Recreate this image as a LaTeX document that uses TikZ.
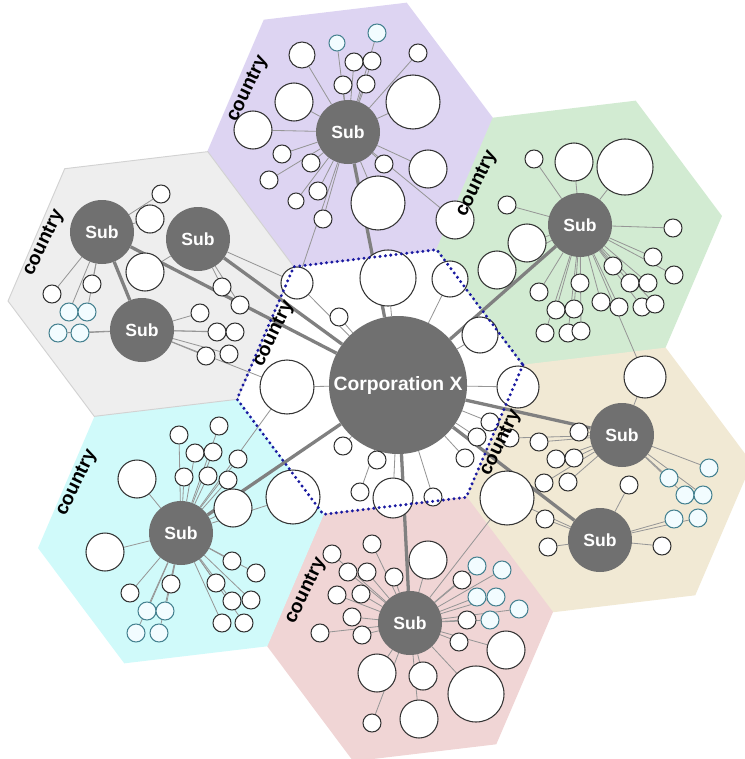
\documentclass[tikz,border=0pt]{standalone}
\usepackage{fontspec}
\setmainfont{Liberation Sans}
\usepackage{tikz}
\usetikzlibrary{calc}
\definecolor{fog}{RGB}{238,238,238}
\definecolor{lavender}{RGB}{221,212,242}
\definecolor{mint}{RGB}{210,235,210}
\definecolor{sand}{RGB}{241,233,212}
\definecolor{blush}{RGB}{240,213,213}
\definecolor{aqua}{RGB}{208,250,250}
\definecolor{hubgray}{RGB}{112,112,112}
\definecolor{linkgray}{RGB}{150,150,150}
\definecolor{dotblue}{RGB}{25,25,160}
\definecolor{tealline}{RGB}{70,130,145}
\definecolor{paleblue}{RGB}{242,252,255}
\pgfdeclarelayer{hexes}
\pgfdeclarelayer{links}
\pgfsetlayers{hexes,links,main}

\begin{document}
\begin{tikzpicture}[x=0.03cm,y=-0.03cm,
  hub/.style={circle,fill=hubgray,text=white,inner sep=0pt,minimum size=1.92cm,
    font=\bfseries\fontsize{15}{15}\selectfont},
  corp/.style={hub,minimum size=4.14cm,font=\bfseries\fontsize{16.5}{16.5}\selectfont},
  leaf/.style={circle,draw=black!80,fill=white,line width=0.9pt,inner sep=0pt},
  cleaf/.style={leaf,draw=tealline,fill=paleblue},
  link/.style={draw=linkgray,line width=0.7pt},
  trunk/.style={draw=linkgray!85!black,line width=2.8pt},
  ctry/.style={font=\bfseries\fontsize{16.5}{16.5}\selectfont,rotate=64}]

\useasboundingbox (0,0) rectangle (744,759);
\clip (0,0) rectangle (744,759);

% hexagon centres
\coordinate (hc)  at (380,382);
\coordinate (hpu) at (350,135);
\coordinate (hgr) at (579,233);
\coordinate (hbe) at (609,480);
\coordinate (hpk) at (410,629);
\coordinate (hcy) at (181,531);
\coordinate (hgy) at (151,284);

\begin{pgfonlayer}{hexes}
\foreach \c/\col in {hc/white,hpu/lavender,hgr/mint,hbe/sand,hpk/blush,hcy/aqua,hgy/fog}
  \fill[fill=\col] ($(\c)+(-6.8:144)$) -- ($(\c)+(53.2:144)$) -- ($(\c)+(113.2:144)$)
    -- ($(\c)+(173.2:144)$) -- ($(\c)+(233.2:144)$) -- ($(\c)+(293.2:144)$) -- cycle;
\draw[gray!35,line width=0.8pt] ($(hgy)+(-6.8:144)$) -- ($(hgy)+(53.2:144)$) -- ($(hgy)+(113.2:144)$)
    -- ($(hgy)+(173.2:144)$) -- ($(hgy)+(233.2:144)$) -- ($(hgy)+(293.2:144)$) -- cycle;
\end{pgfonlayer}

% hubs
\node[corp] (corp) at (398,385) {Corporation X};
\node[hub] (pu) at (348,132) {Sub};
\node[hub] (gr) at (580,225) {Sub};
\node[hub] (ga) at (102,232) {Sub};
\node[hub] (gb) at (198,239) {Sub};
\node[hub] (gc) at (142,330) {Sub};
\node[hub] (ba) at (622,435) {Sub};
\node[hub] (bb) at (600,540) {Sub};
\node[hub] (pk) at (410,623) {Sub};
\node[hub] (cy) at (181,533) {Sub};

% leaves, each tied to its hub
\foreach \h/\p/\list in {
  pu/pu/{337/43/8/cleaf,377/33/9/cleaf,302/55/13/leaf,354/62/9/leaf,372/61/9/leaf,418/53/9/leaf,
    343/85/9/leaf,366/84/9/leaf,294/102/19/leaf,413/102/27/leaf,253/130/19/leaf,282/154/9/leaf,
    311/163/9/leaf,269/180/9/leaf,384/164/9/leaf,428/169/19/leaf,318/191/9/leaf,296/201/8/leaf,
    378/203/27/leaf,323/219/9/leaf,455/220/19/leaf},
  gr/gr/{534/159/9/leaf,574/162/19/leaf,625/167/28/leaf,507/205/9/leaf,527/243/19/leaf,
    497/270/19/leaf,673/228/9/leaf,653/257/9/leaf,674/275/9/leaf,613/266/9/leaf,580/283/9/leaf,
    630/283/9/leaf,648/283/9/leaf,539/292/9/leaf,556/310/9/leaf,574/309/9/leaf,601/302/9/leaf,
    619/307/9/leaf,642/307/9/leaf,655/304/9/leaf,545/333/9/leaf,568/333/9/leaf,581/331/9/leaf},
  corp/co/{297/283/16/leaf,388/278/28/leaf,450/279/18/leaf,339/317/9/leaf,480/335/18/leaf,
    287/387/27/leaf,518/387/21/leaf,343/446/9/leaf,377/460/9/leaf,360/492/9/leaf,393/498/20/leaf,
    433/497/9/leaf,465/458/9/leaf,477/437/9/leaf,490/422/9/leaf},
  ga/ga/{161/194/9/leaf,150/219/14/leaf,92/284/9/leaf,52/294/9/leaf,69/312/9/cleaf,87/312/9/cleaf},
  gb/gb/{145/272/19/leaf,222/287/9/leaf,240/305/9/leaf},
  gc/gc/{58/333/9/cleaf,80/333/9/cleaf,200/313/9/leaf,217/332/9/leaf,235/332/9/leaf,
    206/356/9/leaf,229/354/9/leaf},
  ba/ba/{645/377/21/leaf,510/438/9/leaf,539/442/9/leaf,579/432/9/leaf,556/459/9/leaf,
    574/458/9/leaf,544/483/9/leaf,568/482/9/leaf,709/468/9/cleaf,669/478/9/cleaf,
    685/495/9/cleaf,703/495/9/cleaf},
  bb/bb/{507/498/27/leaf,545/519/9/leaf,548/547/9/leaf,629/485/9/leaf,674/519/9/cleaf,
    698/518/9/cleaf,662/546/9/leaf},
  pk/pk/{372/544/9/leaf,332/554/9/leaf,428/560/19/leaf,348/572/9/leaf,367/572/9/leaf,
    394/577/9/leaf,477/566/9/cleaf,502/570/9/cleaf,462/580/9/leaf,337/595/9/leaf,361/594/9/leaf,
    477/597/9/cleaf,496/597/9/cleaf,519/609/9/cleaf,352/617/9/leaf,467/620/9/leaf,
    490/620/9/cleaf,320/633/9/leaf,362/635/9/leaf,459/642/9/leaf,506/650/19/leaf,
    377/673/19/leaf,423/676/14/leaf,476/694/28/leaf,372/723/9/leaf,419/719/19/leaf},
  cy/cy/{179/435/9/leaf,219/426/9/leaf,195/453/9/leaf,213/452/9/leaf,238/459/9/leaf,
    184/477/9/leaf,208/476/9/leaf,228/480/9/leaf,137/479/19/leaf,233/508/19/leaf,
    293/497/27/leaf,105/552/19/leaf,232/561/9/leaf,256/573/9/leaf,216/583/9/leaf,
    171/584/9/leaf,130/593/9/leaf,232/601/9/leaf,251/600/9/leaf,147/611/9/cleaf,
    165/611/9/cleaf,222/623/9/leaf,244/623/9/leaf,136/633/9/cleaf,159/633/9/cleaf}}
{
  \foreach \x/\y/\r/\s [count=\i] in \list {
    \node[style=\s,minimum size=\r*0.06cm] (\p\i) at (\x,\y) {};
    \begin{pgfonlayer}{links}
      \draw[link] (\h) -- (\p\i);
    \end{pgfonlayer}
  }
}

\begin{pgfonlayer}{links}
\draw[trunk] (corp) -- (pu);
\draw[trunk] (corp) -- (gr);
\draw[trunk] (corp) -- (ga);
\draw[trunk] (corp) -- (gb);
\draw[trunk] (corp) -- (ba);
\draw[trunk] (corp) -- (bb);
\draw[trunk] (corp) -- (pk);
\draw[trunk] (corp) -- (cy);
\draw[trunk] (ga) -- (gc);
\draw[link] (gr) -- (ba1);
\draw[link] (pk) -- (bb1);
\draw[link] (cy) -- (co6);
\draw[link] (gc) -- (co6);
\draw[link] (pu) -- (co1);
\draw[link] (gb) -- (co1);
\end{pgfonlayer}

% centre border
\draw[dotblue,line width=2.8pt,line cap=round,dash pattern=on 0pt off 4.6pt]
    ($(hc)+(-6.8:144)$) -- ($(hc)+(53.2:144)$) -- ($(hc)+(113.2:144)$)
    -- ($(hc)+(173.2:144)$) -- ($(hc)+(233.2:144)$) -- ($(hc)+(293.2:144)$) -- cycle;

\node[ctry] (lgy) at (44,243) {country};
\node[ctry] (lpu) at (248,89) {country};
\node[ctry] (lgr) at (477,184) {country};
\node[ctry] (lc)  at (274,334) {country};
\node[ctry] (lcy) at (77,483) {country};
\node[ctry] (lpk) at (306,591) {country};
\node[ctry] (lbe) at (501,443) {country};
\end{tikzpicture}
\end{document}
